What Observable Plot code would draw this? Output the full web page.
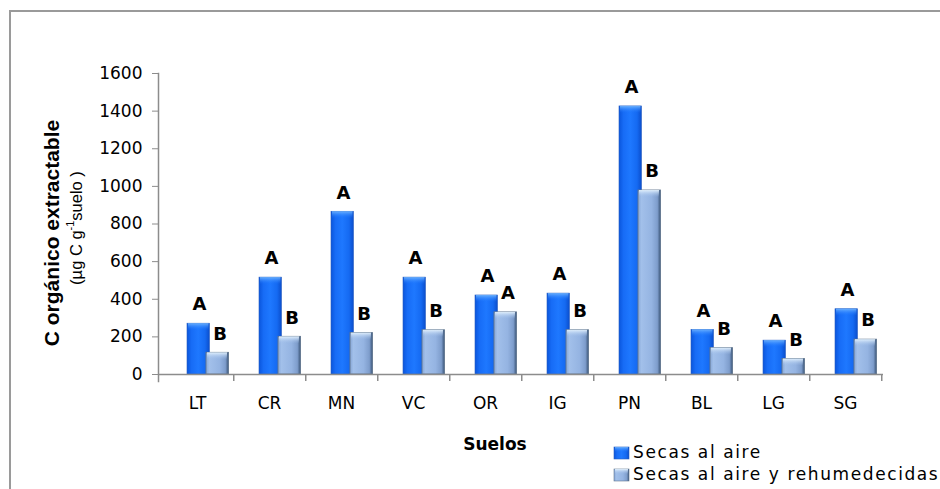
<!DOCTYPE html>
<html><head><meta charset="utf-8">
<script src="https://cdn.jsdelivr.net/npm/d3@7"></script>
<script src="https://cdn.jsdelivr.net/npm/@observablehq/plot@0.6"></script>
<style>
body{margin:0;background:#fff;}
#chart{position:relative;width:940px;height:489px;overflow:hidden;}
</style></head><body><div id="chart"></div>
<script>
const suelos = ["LT","CR","MN","VC","OR","IG","PN","BL","LG","SG"];
const secasAire = [270,515,865,515,420,430,1425,237,180,347];
const secasRehum = [115,200,220,235,330,235,978,140,82,185];
const letrasAire = ["A","A","A","A","A","A","A","A","A","A"];
const letrasRehum = ["B","B","B","B","A","B","B","B","B","B"];
const yTicks = [0,200,400,600,800,1000,1200,1400,1600];
const series = ["Secas al aire","Secas al aire y rehumedecidas"];
const ejeY = "C orgánico extractable";
const ejeX = "Suelos";

const data = suelos.map((s,i)=>({suelo:s, aire:secasAire[i], rehum:secasRehum[i], la:letrasAire[i], lr:letrasRehum[i]}));

const axisGray = "#8c8c8c";
const font = "DejaVu Sans, Verdana, sans-serif";

const plot = Plot.plot({
  width: 940, height: 489,
  marginLeft: 158, marginRight: 57, marginTop: 73, marginBottom: 115,
  style: {fontFamily: font, background: "transparent", color: "black", overflow: "hidden"},
  x: {type: "band", domain: suelos, padding: 0},
  y: {domain: [0, 1600]},
  marks: [
    Plot.barY(data, {x: "suelo", y: "aire", insetLeft: 26, insetRight: 23.5, fill: "url(#gBlue)", stroke: "#2a5fc0", strokeWidth: 0.6}),
    Plot.barY(data, {x: "suelo", y1: "aire", y2: "aire", insetLeft: 27, insetRight: 24.5, insetBottom: -7, fill: "url(#gBlueCap)"}),
    Plot.barY(data, {x: "suelo", y: "rehum", insetLeft: 45, insetRight: 4.5, fill: "url(#gLight)", stroke: "#62778f", strokeWidth: 0.9}),
    Plot.barY(data, {x: "suelo", y1: "rehum", y2: "rehum", insetLeft: 46, insetRight: 6, insetBottom: -7, fill: "url(#gLightCap)"}),
    Plot.ruleY([0], {stroke: axisGray, strokeWidth: 1.5}),
    Plot.ruleX(suelos, {x: d => d, dx: 36.25, y1: 0, y2: 0, insetBottom: -7, stroke: axisGray, strokeWidth: 1.5}),
    Plot.frame({anchor: "left", stroke: axisGray, strokeWidth: 1.5, insetBottom: -7}),
    Plot.axisY({ticks: yTicks, tickSize: 6, tickPadding: 10, fontSize: 17, stroke: axisGray, fill: "black", label: null, tickFormat: d => String(d)}),
    Plot.axisX({tickSize: 0, tickPadding: 22, fontSize: 17, fill: "black", label: null}),
    Plot.text(data, {x: "suelo", y: "aire", text: "la", dx: 2, dy: -19, lineAnchor: "middle", fontSize: 18, fontWeight: "bold", fill: "black"}),
    Plot.text(data, {x: "suelo", y: "rehum", text: "lr", dx: 22.5, dy: -19, lineAnchor: "middle", fontSize: 18, fontWeight: "bold", fill: "black"})
  ]
});
document.getElementById("chart").appendChild(plot);

const svg = d3.select(plot);
const defs = svg.insert("defs", ":first-child");
function hgrad(id, stops){
  const g = defs.append("linearGradient").attr("id", id).attr("x1", 0).attr("x2", 1).attr("y1", 0).attr("y2", 0);
  stops.forEach(([o,c,a]) => g.append("stop").attr("offset", o).attr("stop-color", c).attr("stop-opacity", a ?? 1));
}
function vgrad(id, stops){
  const g = defs.append("linearGradient").attr("id", id).attr("x1", 0).attr("x2", 0).attr("y1", 0).attr("y2", 1);
  stops.forEach(([o,c,a]) => g.append("stop").attr("offset", o).attr("stop-color", c).attr("stop-opacity", a ?? 1));
}
hgrad("gBlue", [[0,"#0a55dc"],[0.2,"#176cf6"],[0.5,"#1e78ff"],[0.8,"#156af2"],[1,"#0b4ecc"]]);
vgrad("gBlueCap", [[0,"#74b8ff",0.9],[1,"#1e78ff",0]]);
hgrad("gLight", [[0,"#86a6d6"],[0.15,"#a2c0ea"],[0.6,"#95b4e2"],[0.86,"#7e9dcc"],[1,"#3c5678"]]);
vgrad("gLightCap", [[0,"#e6f4ff",0.95],[1,"#a2c0ea",0]]);

// outer border (top and left edges visible)
const border = svg.append("g").attr("stroke", "#9a9a9a").attr("stroke-width", 2).attr("fill", "none");
border.append("line").attr("x1", 9).attr("x2", 940).attr("y1", 11).attr("y2", 11);
border.append("line").attr("x1", 10).attr("x2", 10).attr("y1", 10).attr("y2", 489);

// y axis title
svg.append("text").attr("transform", "translate(53,233) rotate(-90)")
  .attr("text-anchor", "middle").attr("dominant-baseline", "middle")
  .attr("font-family", "Liberation Sans, Arial, sans-serif").attr("font-weight", "bold").attr("font-size", 21)
  .text(ejeY);
const sub = svg.append("text").attr("transform", "translate(78,228) rotate(-90)")
  .attr("text-anchor", "middle").attr("dominant-baseline", "middle")
  .attr("font-family", "Liberation Sans, Arial, sans-serif").attr("font-size", 16.5);
sub.append("tspan").text("(µg C g");
sub.append("tspan").attr("font-size", 11).attr("dy", -7).text("-1");
sub.append("tspan").attr("dy", 7).text("suelo )");

// x axis title
svg.append("text").attr("x", 495).attr("y", 445)
  .attr("text-anchor", "middle").attr("dominant-baseline", "middle")
  .attr("font-family", font).attr("font-weight", "bold").attr("font-size", 17)
  .text(ejeX);

// legend
const leg = [{y: 453, fill: "url(#gBlue)", cap: "url(#gBlueCap)", stroke: "#2a5fc0"}, {y: 475, fill: "url(#gLight)", cap: "url(#gLightCap)", stroke: "#62778f"}];
leg.forEach((l, i) => {
  svg.append("rect").attr("x", 614).attr("y", l.y - 6).attr("width", 15).attr("height", 12).attr("fill", l.fill).attr("stroke", l.stroke).attr("stroke-width", 0.6);
  svg.append("rect").attr("x", 615).attr("y", l.y - 6).attr("width", 13).attr("height", 5).attr("fill", l.cap);
  svg.append("text").attr("x", 633).attr("y", l.y).attr("dominant-baseline", "middle").attr("text-anchor", "start")
    .attr("font-family", font).attr("font-size", 17).attr("letter-spacing", "1.6px")
    .text(series[i]);
});
</script></body></html>
